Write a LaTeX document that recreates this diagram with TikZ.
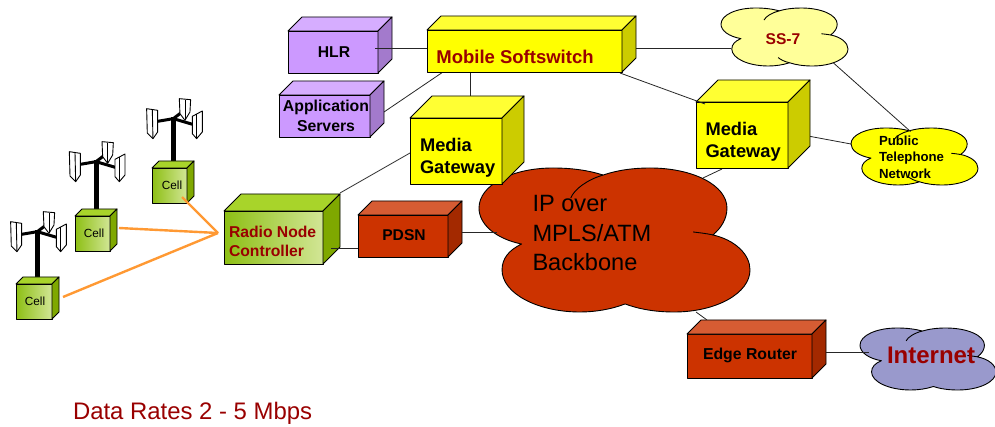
\documentclass[tikz,border=0pt]{standalone}
\usepackage{fontspec}
\setmainfont{Liberation Sans}
\pgfdeclarelayer{back}
\pgfdeclarelayer{front}
\pgfsetlayers{back,main,front}
\definecolor{pF}{HTML}{CC99FF}\definecolor{pT}{HTML}{D6ADFF}\definecolor{pS}{HTML}{A37ACC}
\definecolor{yF}{HTML}{FFFF00}\definecolor{yT}{HTML}{FFFF33}\definecolor{yS}{HTML}{CCCC00}
\definecolor{rF}{HTML}{CC3300}\definecolor{rT}{HTML}{D65C33}\definecolor{rS}{HTML}{A32900}
\definecolor{gF}{HTML}{99CC33}\definecolor{gT}{HTML}{A8D42A}\definecolor{gS}{HTML}{7FA800}
\definecolor{gL}{HTML}{8DBF14}\definecolor{gR}{HTML}{D2E696}
\definecolor{dred}{HTML}{990000}\definecolor{orng}{HTML}{FF9933}
\definecolor{palecl}{HTML}{FFFF99}\definecolor{bluecl}{HTML}{9999CC}
\tikzset{
  outline/.style={draw=black,line width=0.9pt,line join=round},
  face p/.style={fill=pF},face y/.style={fill=yF},face r/.style={fill=rF},
  face g/.style={left color=gL,right color=gR},
  boxfront/.style={outline,inner sep=0,outer sep=0,anchor=north west},
  cloudbox/.style={inner sep=0,outer sep=0,anchor=north west},
  conn/.style={draw=black!85,line width=0.8pt},
  radio/.style={draw=orng,line width=2.4pt},
  lbl/.style={inner sep=0,outer sep=0,align=center},
  lbll/.style={inner sep=0,outer sep=0,align=left,anchor=west},
  bf/.style={font=\bfseries\fontsize{#1}{#1}\selectfont},
  bflead/.style 2 args={font=\bfseries\fontsize{#1}{#2}\selectfont},
}
% name, x, y, w, h, depth, family
\newcommand\cube[7]{%
  \node[boxfront,face #7,minimum width=#4pt,minimum height=#5pt] (#1) at (#2,#3) {};
  \draw[outline,fill=#7T] (#1.north west) -- ++(#6,-#6) -- ++(#4,0) -- (#1.north east) -- cycle;
  \draw[outline,fill=#7S] (#1.north east) -- ++(#6,-#6) -- ++(0,#5) -- (#1.south east) -- cycle;
}
% name, x, y, w, h, fill
\newcommand\cloudshape[6]{%
  \node[cloudbox,minimum width=#4pt,minimum height=#5pt] (#1) at (#2,#3) {};
  \begin{scope}[shift={(#2,#3)},xscale=#4,yscale=#5]
    \draw[outline,fill=#6] (.157,.528)
      .. controls (.06,.49) and (0,.39) .. (0,.278)
      .. controls (0,.12) and (.12,0) .. (.273,0)
      .. controls (.35,0) and (.41,.02) .. (.458,.049)
      .. controls (.51,.015) and (.57,0) .. (.631,0)
      .. controls (.79,0) and (.915,.12) .. (.915,.278)
      .. controls (.915,.35) and (.895,.415) .. (.863,.465)
      .. controls (.945,.5) and (1,.6) .. (1,.708)
      .. controls (1,.87) and (.875,1) .. (.72,1)
      .. controls (.65,1) and (.59,.98) .. (.539,.944)
      .. controls (.49,.98) and (.43,1) .. (.373,1)
      .. controls (.215,1) and (.085,.87) .. (.085,.708)
      .. controls (.085,.63) and (.11,.57) .. (.157,.528) -- cycle;
    \draw[outline] (.458,.049) .. controls (.40,.08) and (.35,.15) .. (.339,.208);
    \draw[outline] (.863,.465) .. controls (.84,.455) and (.815,.45) .. (.79,.444);
  \end{scope}
}
\newcommand\cloudtail[5]{%
  \begin{scope}[shift={(#2,#3)},xscale=#4,yscale=#5]
    \draw[outline] (.539,.944) .. controls (.50,.925) and (.47,.89) .. (.45,.855);
  \end{scope}
}
% x, y of the mast top, mast bottom y
\newcommand\tower[3]{%
  \draw[black,line width=5pt] (#1,#2) -- (#1,#3);
  \begin{scope}[shift={(#1,#2)},xscale=1/3,yscale=1/3]
    \draw[black,line width=3pt] (-47,13) -- (0,5) -- (58,22);
    \draw[black,line width=3pt] (0,5) -- (33,-20);
    \draw[outline,line width=.9pt,fill=white] (-80,-25) -- (-47,-20) -- (-47,45) -- (-61,65) -- (-78,48) -- cycle;
    \draw[line width=.9pt] (-63,-22) -- (-61,65);
    \draw[outline,line width=.9pt,fill=white] (18,-55) -- (52,-52) -- (50,-15) -- (35,10) -- (20,-10) -- cycle;
    \draw[line width=.9pt] (35,-52) -- (35,10);
    \draw[outline,line width=.9pt,fill=white] (57,-2) -- (87,-18) -- (87,45) -- (70,65) -- (57,50) -- cycle;
    \draw[line width=.9pt] (70,-8) -- (70,65);
  \end{scope}
}
\begin{document}
\begin{tikzpicture}[x=1pt,y=-1pt]
\useasboundingbox (0,0) rectangle (995,427);
\tower{173.3}{117}{162}
\tower{96}{160}{209}
\tower{37.3}{230}{277}
\cloudshape{ip}{479}{168}{271}{144}{rF}
\cloudshape{ssseven}{721}{8}{127}{58}{palecl}
\cloudtail{ssseven}{721}{8}{127}{58}
\cloudshape{pstn}{851}{128}{127}{57}{yF}
\cloudtail{pstn}{851}{128}{127}{57}
\cloudshape{inet}{860}{328}{136}{62}{bluecl}
\cube{hlr}{288}{31}{90}{42}{14}{p}
\cube{app}{279}{95}{91}{42}{14}{p}
\cube{mss}{427}{30}{195}{42}{14}{y}
\cube{mgone}{410}{118}{92}{66}{22}{y}
\cube{mgtwo}{696}{102}{92}{66}{22}{y}
\cube{rnc}{224}{211}{99}{53}{17}{g}
\cube{pdsn}{358}{215}{90}{42}{14}{r}
\cube{edge}{687}{334}{125}{44}{14}{r}
\cube{cellc}{152}{168}{35}{35}{7}{g}
\cube{cellb}{75}{216}{35}{35}{7}{g}
\cube{cella}{16}{284}{36}{35}{7}{g}
\begin{pgfonlayer}{back}
  \draw[conn] ([shift={(14,17)}]app.north east) -- ([shift={(16,0)}]mss.south west);
  \draw[conn] ([shift={(43,0)}]mss.south west) -- ([shift={(60,-22)}]mgone.north west);
  \draw[conn] ([shift={(0,35)}]mgone.north west) -- ([shift={(17,-18)}]rnc.north east);
  \draw[conn] ([shift={(13,-24)}]mss.south east) -- ([shift={(10,11)}]ssseven.west);
  \draw[conn] ([shift={(20,-32)}]mgtwo.south east) -- ([shift={(0,-12.5)}]pstn.west);
  \draw[conn] ([shift={(88.5,10)}]ip.north) -- ([shift={(26,1)}]mgtwo.south west);
  \draw[conn] ([shift={(81.5,0)}]ip.south) -- ([shift={(20,-14)}]edge.north west);
\end{pgfonlayer}
\begin{pgfonlayer}{front}
  \draw[conn] ([shift={(-3,17)}]hlr.north east) -- ([shift={(0,18)}]mss.north west);
  \draw[conn] ([shift={(-2,1)}]mss.south east) -- ([shift={(9,2)}]mgtwo.north west);
  \draw[conn] ([shift={(49,26)}]ssseven.center) -- ([shift={(-4,-25)}]pstn.center);
  \draw[conn] ([shift={(8,-16)}]rnc.south east) -- ([shift={(0,-9)}]pdsn.south west);
  \draw[conn] ([shift={(14,-25)}]pdsn.south east) -- ([shift={(18,-8)}]ip.west);
  \draw[conn] ([shift={(14,18)}]edge.north east) -- ([shift={(9,-7)}]inet.west);
  \draw[radio] ([shift={(30,29)}]cellc.north west) -- ([shift={(-6,-4.5)}]rnc.west);
  \draw[radio] ([shift={(9,12)}]cellb.north east) -- ([shift={(-6,-4.5)}]rnc.west);
  \draw[radio] ([shift={(11,13)}]cella.north east) -- ([shift={(-6,-4.5)}]rnc.west);
  \node[lbl,bf=15.7] (thlr) at (334,52) {HLR};
  \node[lbl,bflead={15.8}{20}] (tapp) at (326,116) {Application\\ Servers};
  \node[lbl,bf=18.5,text=dred] (tmss) at (515,57) {Mobile Softswitch};
  \node[lbll,bflead={18.3}{22}] (tmgone) at (420,157.5) {Media\\Gateway};
  \node[lbll,bflead={18.3}{22}] (tmgtwo) at (705.5,141.5) {Media\\Gateway};
  \node[lbll,bflead={15.7}{19},text=dred] (trnc) at (229,241) {Radio Node\\Controller};
  \node[lbl,bf=15.6] (tpdsn) at (404,235) {PDSN};
  \node[lbl,bf=15.8] (tedge) at (750,355) {Edge Router};
  \node[lbl,bf=15.6,text=dred] (tss) at (783,39) {SS-7};
  \node[lbll,bflead={13.2}{16.5}] (tpstn) at (879,157) {Public\\Telephone\\Network};
  \node[lbl,bf=24,text=dred] (tinet) at (931,355.5) {Internet};
  \node[lbll,font=\fontsize{23.6}{29.5}\selectfont] (tip) at (532.5,233) {IP over\\MPLS/ATM\\Backbone};
  \node[lbl,font=\fontsize{11.8}{14}\selectfont] (tc) at (172,185) {Cell};
  \node[lbl,font=\fontsize{11.8}{14}\selectfont] (tb) at (94,233) {Cell};
  \node[lbl,font=\fontsize{11.8}{14}\selectfont] (ta) at (35,301) {Cell};
  \node[lbll,font=\fontsize{23.9}{28}\selectfont,text=dred] (trate) at (73,413.5) {Data Rates 2 - 5 Mbps};
\end{pgfonlayer}
\end{tikzpicture}
\end{document}
